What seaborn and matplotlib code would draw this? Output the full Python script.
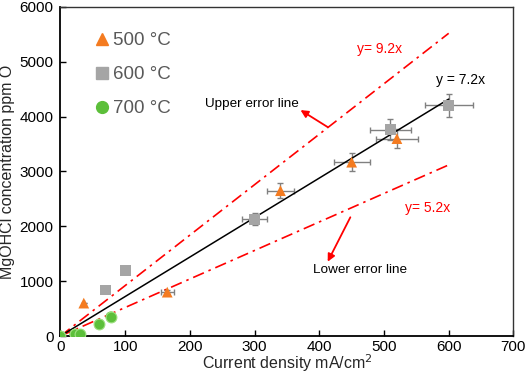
import pandas as pd
import numpy as np
import matplotlib
matplotlib.use("Agg")
import matplotlib.pyplot as plt
import seaborn as sns

# measured points (current density mA/cm2, MgOHCl ppm O)
temps = ["500 °C", "600 °C", "700 °C"]

x_500 = [36, 165, 340, 450, 520]
y_500 = [600, 800, 2650, 3170, 3600]
xerr_500 = [0, 10, 21, 28, 32]
yerr_500 = [0, 40, 140, 160, 170]

x_600 = [70, 100, 300, 510, 600]
y_600 = [840, 1190, 2130, 3760, 4210]
xerr_600 = [0, 4, 19, 32, 37]
yerr_600 = [0, 30, 110, 190, 210]

x_700 = [0, 22, 30, 60, 78]
y_700 = [0, 30, 30, 215, 350]

# fit line and error lines
line_x = [0, 600]
fit_y = [0, 4320]      # y = 7.2x
upper_y = [0, 5520]    # y = 9.2x
lower_y = [0, 3120]    # y = 5.2x

df = pd.DataFrame({
    "x": x_500 + x_600 + x_700,
    "y": y_500 + y_600 + y_700,
    "temp": [temps[0]] * len(x_500) + [temps[1]] * len(x_600) + [temps[2]] * len(x_700),
})

sns.set_theme(style="white")
plt.rcParams["font.family"] = ["Liberation Sans", "DejaVu Sans"]

fig = plt.figure(figsize=(5.26, 3.74), dpi=100)
ax = fig.add_axes([0.115, 0.1016, 0.861, 0.8797])

palette = {"500 °C": "#f47b20", "600 °C": "#a5a5a5", "700 °C": "#5cbf3a"}
markers = {"500 °C": "^", "600 °C": "s", "700 °C": "o"}

# error bars first, under the markers
ebar = dict(fmt="none", ecolor="#808080", elinewidth=1, capsize=2, capthick=1, zorder=2)
ax.errorbar(x_500, y_500, xerr=xerr_500, yerr=yerr_500, **ebar)
ax.errorbar(x_600, y_600, xerr=xerr_600, yerr=yerr_600, **ebar)

# lines
sns.lineplot(x=line_x, y=upper_y, ax=ax, color="red", lw=1.2, zorder=1,
             linestyle=(0, (7, 3, 1.5, 3)))
sns.lineplot(x=line_x, y=lower_y, ax=ax, color="red", lw=1.2, zorder=1,
             linestyle=(0, (7, 3, 1.5, 3)))
sns.lineplot(x=line_x, y=fit_y, ax=ax, color="black", lw=1.1, zorder=3)

sns.scatterplot(data=df, x="x", y="y", hue="temp", style="temp",
                palette=palette, markers=markers, hue_order=temps, style_order=temps,
                s=60, linewidth=0.8, edgecolor="none", ax=ax, zorder=4, legend=False)
# light outline on the green circles
ax.scatter(x_700, y_700, s=60, facecolor="#5cbf3a", edgecolor="#9ee080", lw=0.8, zorder=5)

# legend
handles = [
    plt.Line2D([], [], ls="", marker=markers[t], color=palette[t], markersize=8.5)
    for t in temps
]
ax.legend(handles, temps, loc="upper left", bbox_to_anchor=(0.04, 0.975),
          frameon=False, fontsize=13.5, labelcolor="#595959",
          handlelength=0.7, handletextpad=0.25, labelspacing=0.9)

# annotations
ax.text(459, 5234, "y= 9.2x", color="red", fontsize=10, va="center")
ax.text(581, 4669, "y = 7.2x", color="black", fontsize=10, va="center")
ax.text(532, 2334, "y= 5.2x", color="red", fontsize=10, va="center")
ax.text(223, 4231, "Upper error line", color="black", fontsize=9.7, va="center")
ax.text(390, 1204, "Lower error line", color="black", fontsize=9.7, va="center")
arrow = dict(arrowstyle="-|>", color="red", lw=1.3, mutation_scale=11,
             shrinkA=0, shrinkB=0)
ax.annotate("", xy=(371, 4120), xytext=(413, 3810), arrowprops=arrow)
ax.annotate("", xy=(413, 1355), xytext=(448, 2165), arrowprops=arrow)

ax.set_xlim(0, 700)
ax.set_ylim(0, 6000)
ax.set_xticks(np.arange(0, 701, 100))
ax.set_yticks(np.arange(0, 6001, 1000))
ax.tick_params(direction="in", length=4, width=1, labelsize=11, colors="black",
               top=False, right=False, bottom=True, left=True, pad=5)
ax.tick_params(axis="x", pad=3)
for side in ["left", "bottom"]:
    ax.spines[side].set_color("black")
    ax.spines[side].set_linewidth(1.3)
for side in ["top", "right"]:
    ax.spines[side].set_color("#333333")
    ax.spines[side].set_linewidth(1.0)

ax.set_xlabel("Current density mA/cm$^2$", fontsize=11.5, labelpad=-1)
ax.set_ylabel("MgOHCl concentration ppm O", fontsize=11.5, labelpad=3)
ax.grid(False)

fig.savefig("out.png", dpi=100)
